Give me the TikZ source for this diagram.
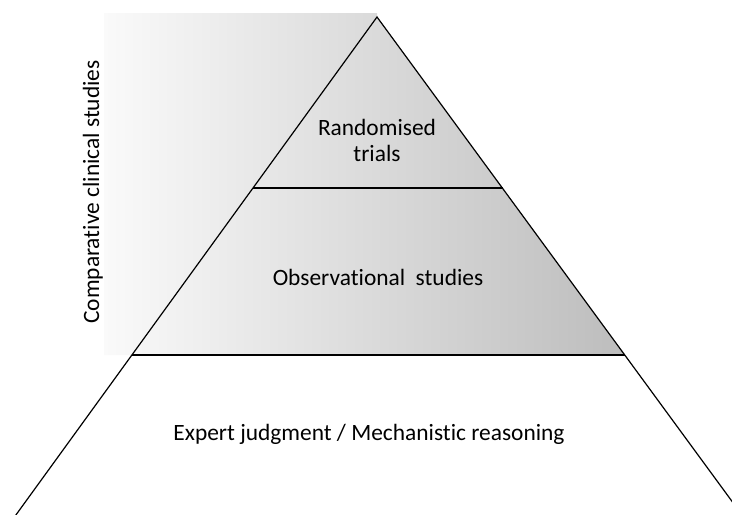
\documentclass[tikz,border=0pt]{standalone}
\usepackage{fontspec}
\setmainfont[Ligatures=NoCommon]{Carlito}

\definecolor{cor_clara}{gray}{0.98}
\definecolor{cor_escura}{gray}{0.74}

\begin{document}
\begin{tikzpicture}[x=0.5pt,y=-0.5pt]
        \tikzset{
            rotulo/.style={
                font=\fontsize{11.7}{13}\selectfont,
                align=center,
                inner sep=0pt
            },
            borda/.style={
                black,
                line width=0.6pt
            }
        }
        \useasboundingbox (0,0) rectangle (732,514);
        \clip (0,0) rectangle (732,514);

        \coordinate (topo) at (377,17);
        \coordinate (rand_esq) at (253,188);
        \coordinate (rand_dir) at (502.5,188);
        \coordinate (obs_esq) at (132,355);
        \coordinate (obs_dir) at (625,355);
        \coordinate (base_esq) at (5,530);
        \coordinate (base_dir) at (753,530);

        % faixa sombreada
        \shade[left color=cor_clara, right color=cor_escura]
            (104,13) -- (377,13) -- (topo) -- (obs_dir) -- (104,355) -- cycle;

        \draw[borda] (base_esq) -- (topo) -- (base_dir);
        \draw[borda] (rand_esq) -- (rand_dir);
        \draw[borda] (obs_esq) -- (obs_dir);

        \node[rotulo] (rand) at (377,140) {Randomised\\trials};
        \node[rotulo] (obs) at (378,277) {Observational\hspace{0.45em}studies};
        \node[rotulo] (exp) at (369,434) {Expert judgment / Mechanistic reasoning};
        \node[rotulo, rotate=90] (comp) at (93,192) {Comparative clinical studies};

    \end{tikzpicture}
\end{document}
